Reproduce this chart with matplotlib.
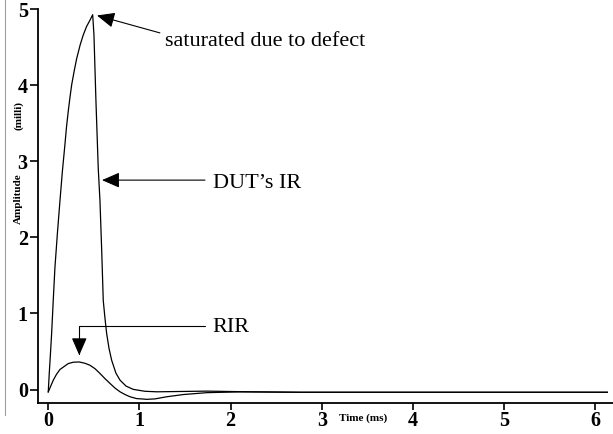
import matplotlib
matplotlib.use("Agg")
import matplotlib.pyplot as plt
from matplotlib.lines import Line2D

plt.rcParams['font.family'] = ['Liberation Serif', 'DejaVu Serif']

# DUT impulse response (saturated), time in ms, amplitude in milli
dut_t = [0.0, 0.011, 0.024, 0.037, 0.055, 0.073, 0.1, 0.128, 0.155, 0.183,
         0.2, 0.219, 0.238, 0.257, 0.285, 0.311, 0.35, 0.384, 0.42, 0.457,
         0.487, 0.501, 0.523, 0.548, 0.567, 0.586, 0.603, 0.622, 0.640, 0.666,
         0.695, 0.742, 0.787, 0.853, 0.932, 1.06, 1.19, 1.74, 2.10, 2.76, 6.13]
dut_amp = [-0.03, 0.216, 0.47, 0.739, 1.18, 1.601, 2.05, 2.477, 2.87, 3.222,
           3.45, 3.654, 3.84, 4.007, 4.19, 4.346, 4.53, 4.660, 4.77, 4.852,
           4.925, 4.66, 3.784, 2.908, 2.477, 1.824, 1.17, 0.935, 0.739, 0.542,
           0.386, 0.216, 0.124, 0.046, 0.003, -0.022, -0.029, -0.02, -0.027,
           -0.035, -0.035]

# room impulse response
rir_t = [0.0, 0.055, 0.09, 0.128, 0.219, 0.276, 0.340, 0.402, 0.457, 0.512,
         0.567, 0.622, 0.677, 0.732, 0.787, 0.842, 0.896, 0.969, 1.042, 1.079,
         1.17, 1.30, 1.48, 1.74, 2.10, 2.76, 6.13]
rir_amp = [-0.03, 0.124, 0.20, 0.264, 0.342, 0.36, 0.363, 0.346, 0.320, 0.275,
           0.212, 0.144, 0.081, 0.02, -0.029, -0.065, -0.094, -0.118, -0.124, -0.128,
           -0.122, -0.094, -0.065, -0.04, -0.03, -0.035, -0.035]

x_ticks = [0, 1, 2, 3, 4, 5, 6]
y_ticks = [0, 1, 2, 3, 4, 5]

W, H = 613, 434
fig = plt.figure(figsize=(W / 100, H / 100), dpi=100)
ax = fig.add_axes([37.5 / W, 1 - 403 / H, 1 - 37.5 / W, (403 - 9) / H])

ax.plot(dut_t, dut_amp, color='black', lw=0.9)
ax.plot(rir_t, rir_amp, color='black', lw=0.9)

ax.set_xlim(-0.118, 6.192)
ax.set_ylim(-0.176, 5.0)
ax.set_xticks(x_ticks)
ax.set_yticks(y_ticks)
ax.spines['top'].set_visible(False)
ax.spines['right'].set_visible(False)
for s in ['left', 'bottom']:
    ax.spines[s].set_linewidth(1.3)
ax.tick_params(axis='y', direction='out', length=6, width=1.2, pad=1)
ax.tick_params(axis='x', direction='out', length=5, width=1.2, pad=1)
for lab in ax.get_xticklabels() + ax.get_yticklabels():
    lab.set_fontweight('bold')
    lab.set_fontsize(14.5)

arrow_kw = dict(arrowstyle='-|>,head_length=1.08,head_width=0.47',
                mutation_scale=10, color='black', lw=0.8, shrinkA=0, shrinkB=0)

# saturated annotation
ax.annotate('', xy=(0.534, 4.915), xytext=(1.224, 4.686), arrowprops=arrow_kw)
ax.text(1.28, 4.512, 'saturated due to defect', fontsize=16, va='baseline', ha='left')

# DUT's IR annotation
ax.annotate('', xy=(0.589, 2.752), xytext=(1.718, 2.752), arrowprops=arrow_kw)
ax.text(1.804, 2.651, 'DUT\u2019s IR', fontsize=16, va='baseline', ha='left')

# RIR annotation (elbow arrow)
ax.annotate('', xy=(0.34, 0.451), xytext=(1.718, 0.83),
            arrowprops=dict(connectionstyle='angle,angleA=0,angleB=90,rad=0', **arrow_kw))
ax.text(1.804, 0.756, 'RIR', fontsize=16, va='baseline', ha='left')

# axis labels
fig.text(363 / W, 1 - 418 / H, 'Time (ms)', fontsize=8, fontweight='bold',
         ha='center', va='center')
fig.text(18.5 / W, 1 - 199 / H, 'Amplitude', fontsize=8, fontweight='bold',
         rotation=90, ha='center', va='center')
fig.text(18.5 / W, 1 - 116 / H, '(milli)', fontsize=8, fontweight='bold',
         rotation=90, ha='center', va='center')

# thin frame line at the left edge
fig.add_artist(Line2D([5 / W, 5 / W], [1.0, 1 - 415 / H], color='#a0a0a0', lw=0.8))

fig.savefig('out.png', dpi=100)
